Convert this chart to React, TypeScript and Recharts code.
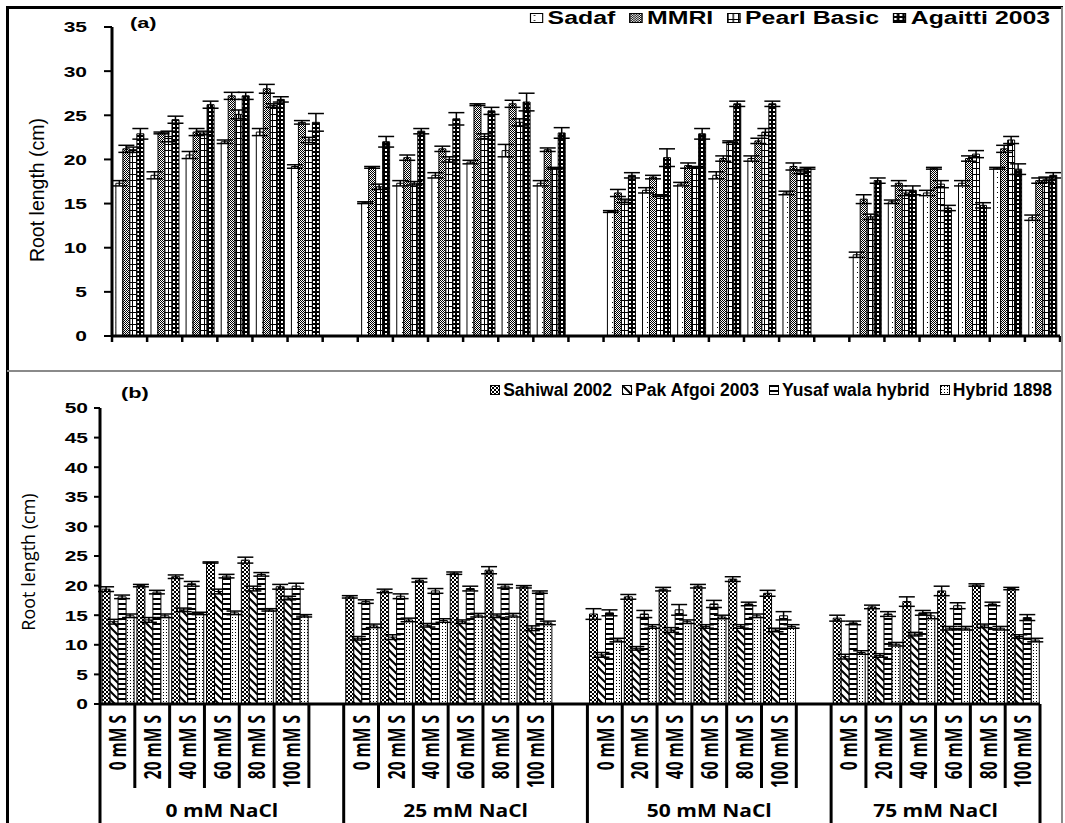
import React from 'react';
import { BarChart, Bar, XAxis, YAxis, ErrorBar } from 'recharts';

const salinityLevels = ['0 mM NaCl', '25 mM NaCl', '50 mM NaCl', '75 mM NaCl'];
const siliconLevels = ['0 mM S', '20 mM S', '40 mM S', '60 mM S', '80 mM S', '100 mM S'];

// Panel (a)
const topNames = ['Sadaf', 'MMRI', 'Pearl Basic', 'Agaitti 2003'];
const sadaf = [17.3, 18.2, 20.5, 22.0, 23.1, 19.2, 15.1, 17.3, 18.2, 19.7, 21.0, 17.3, 14.1, 16.5, 17.2, 18.2, 20.1, 16.2, 9.2, 15.2, 16.2, 17.3, 19.0, 13.4];
const sadafErr = [0.3, 0.4, 0.4, 0.2, 0.4, 0.2, 0.1, 0.3, 0.3, 0.2, 0.7, 0.3, 0.1, 0.3, 0.2, 0.4, 0.3, 0.2, 0.3, 0.2, 0.3, 0.3, 0.1, 0.3];
const mmri = [21.2, 23.0, 23.1, 27.2, 28.0, 24.2, 19.1, 20.2, 21.2, 26.2, 26.3, 21.1, 16.2, 18.0, 19.3, 20.1, 22.1, 19.2, 15.5, 17.3, 19.0, 20.1, 21.2, 17.6];
const mmriErr = [0.4, 0.1, 0.4, 0.4, 0.5, 0.2, 0.1, 0.3, 0.3, 0.1, 0.4, 0.2, 0.4, 0.2, 0.3, 0.3, 0.3, 0.4, 0.5, 0.3, 0.1, 0.3, 0.4, 0.3];
const pearl = [21.1, 22.6, 23.0, 25.1, 26.1, 22.2, 16.9, 17.3, 20.0, 22.6, 24.2, 19.0, 15.3, 15.9, 19.1, 22.0, 23.1, 18.6, 13.5, 16.2, 17.2, 20.6, 22.2, 17.7];
const pearlErr = [0.3, 0.6, 0.2, 0.5, 0.2, 0.3, 0.3, 0.2, 0.3, 0.3, 0.4, 0.1, 0.2, 0.1, 0.1, 0.1, 0.4, 0.2, 0.3, 0.3, 0.4, 0.4, 0.4, 0.3];
const agaitti = [22.9, 24.5, 26.2, 27.2, 26.8, 24.2, 22.0, 23.2, 24.6, 25.5, 26.5, 23.0, 18.2, 20.2, 22.9, 26.3, 26.3, 19.0, 17.6, 16.5, 14.5, 14.8, 18.9, 18.2];
const agaittiErr = [0.6, 0.4, 0.4, 0.4, 0.3, 1.0, 0.6, 0.3, 0.7, 0.4, 1.0, 0.6, 0.3, 1.0, 0.6, 0.3, 0.3, 0.1, 0.3, 0.5, 0.3, 0.3, 0.6, 0.3];
const topTicks = [0, 5, 10, 15, 20, 25, 30, 35];

// Panel (b)
const bottomNames = ['Sahiwal 2002', 'Pak Afgoi 2003', 'Yusaf wala hybrid', 'Hybrid 1898'];
const sahiwal = [19.4, 20.0, 21.5, 23.9, 24.3, 19.8, 18.1, 19.1, 20.9, 22.1, 22.6, 19.8, 15.2, 18.1, 19.4, 19.9, 21.1, 18.7, 14.5, 16.4, 17.3, 19.1, 20.1, 19.5];
const sahiwalErr = [0.4, 0.2, 0.3, 0.1, 0.5, 0.4, 0.2, 0.3, 0.3, 0.2, 0.6, 0.2, 0.9, 0.4, 0.3, 0.3, 0.4, 0.5, 0.5, 0.3, 0.8, 0.8, 0.2, 0.2];
const pak = [13.9, 14.2, 15.9, 19.0, 19.5, 17.9, 11.1, 11.3, 13.3, 13.9, 14.9, 12.8, 8.3, 9.4, 12.5, 13.1, 13.1, 12.5, 8.0, 8.2, 11.8, 12.8, 13.2, 11.4];
const pakErr = [0.4, 0.4, 0.3, 0.4, 0.4, 0.3, 0.3, 0.4, 0.3, 0.3, 0.3, 0.4, 0.4, 0.3, 0.4, 0.3, 0.3, 0.3, 0.4, 0.3, 0.3, 0.3, 0.3, 0.3];
const yusaf = [18.1, 18.9, 20.3, 21.6, 21.9, 19.9, 17.3, 18.2, 19.1, 19.5, 19.9, 18.9, 15.4, 15.2, 15.9, 16.9, 16.9, 14.9, 13.7, 15.2, 15.4, 16.6, 16.9, 14.6];
const yusafErr = [0.3, 0.3, 0.4, 0.3, 0.3, 0.5, 0.3, 0.4, 0.4, 0.4, 0.3, 0.2, 0.5, 0.6, 0.9, 0.6, 0.3, 0.7, 0.3, 0.4, 0.4, 0.5, 0.3, 0.5];
const hybrid = [14.9, 14.9, 15.3, 15.4, 15.9, 14.9, 13.2, 14.2, 14.1, 15.0, 15.0, 13.7, 10.8, 13.1, 13.9, 14.7, 14.9, 13.1, 8.7, 10.1, 14.9, 12.8, 12.8, 10.8];
const hybridErr = [0.3, 0.3, 0.2, 0.3, 0.2, 0.2, 0.3, 0.3, 0.3, 0.3, 0.3, 0.3, 0.3, 0.3, 0.3, 0.3, 0.3, 0.3, 0.3, 0.3, 0.5, 0.3, 0.3, 0.3];
const bottomTicks = [0, 5, 10, 15, 20, 25, 30, 35, 40, 45, 50];

type Series = { key: string; values: number[]; errors: number[] };

function buildRows(series: Series[]) {
  const rows: any[] = [];
  salinityLevels.forEach((sal, g) => {
    siliconLevels.forEach((si, s) => {
      const row: any = { key: `${g}-${s}`, label: si, group: g, groupLabel: sal, first: s === 0 };
      series.forEach((ser) => {
        row[ser.key] = ser.values[g * 6 + s];
        row[ser.key + 'Err'] = ser.errors[g * 6 + s];
      });
      rows.push(row);
    });
    if (g < salinityLevels.length - 1) rows.push({ key: `gap-${g}`, label: '', group: g, gap: true });
  });
  return rows;
}

const topRows = buildRows([
  { key: 's1', values: sadaf, errors: sadafErr },
  { key: 's2', values: mmri, errors: mmriErr },
  { key: 's3', values: pearl, errors: pearlErr },
  { key: 's4', values: agaitti, errors: agaittiErr },
]);
const bottomRows = buildRows([
  { key: 's1', values: sahiwal, errors: sahiwalErr },
  { key: 's2', values: pak, errors: pakErr },
  { key: 's3', values: yusaf, errors: yusafErr },
  { key: 's4', values: hybrid, errors: hybridErr },
]);

const W = 1065;
const T = { h: 370, left: 112, right: 5, top: 27, xh: 34 };
const B = { offset: 373, h: 450, left: 100, right: 25, top: 35, xh: 119 };
const T_SLOT = (W - T.left - T.right) / topRows.length;
const B_SLOT = (W - B.left - B.right) / bottomRows.length;

const topPatterns = ['pSadaf', 'pMMRI', 'pPearl', 'pAgaitti'];
const bottomPatterns = ['pSahiwal', 'pPak', 'pYusaf', 'pHybrid'];

const ARIAL = '"Liberation Sans", Arial, sans-serif';
const CAL = '"Open Sans", "Liberation Sans", sans-serif';

const YTick = (props: any) => {
  const { x, y, payload } = props;
  return (
    <g transform={`translate(${x},${y})`}>
      <text transform="scale(1.4,1)" textAnchor="end" dy="0.36em" fontFamily={ARIAL} fontWeight="bold" fontSize={15} fill="#000">
        {payload.value}
      </text>
    </g>
  );
};

const TopTick = (props: any) => {
  const { x, y, index } = props;
  const left = x - T_SLOT / 2;
  return (
    <g>
      <line x1={left} x2={left} y1={y} y2={y + 6} stroke="#000" strokeWidth={2.5} />
      {index === topRows.length - 1 && (
        <line x1={x + T_SLOT / 2} x2={x + T_SLOT / 2} y1={y} y2={y + 6} stroke="#000" strokeWidth={2.5} />
      )}
    </g>
  );
};

const BottomTick = (props: any) => {
  const { x, y, index } = props;
  const row = bottomRows[index];
  if (!row) return null;
  const left = x - B_SLOT / 2;
  const full = B.xh;
  const n = bottomRows.filter((r) => r.group === row.group).length;
  return (
    <g>
      <line x1={left} x2={left} y1={y} y2={y + (row.first ? full : 84)} stroke="#000" strokeWidth={3} />
      {index === bottomRows.length - 1 && (
        <line x1={x + B_SLOT / 2} x2={x + B_SLOT / 2} y1={y} y2={y + full} stroke="#000" strokeWidth={3} />
      )}
      {row.label && (
        <text
          transform={`translate(${x},${y + 11}) scale(1.45,1) rotate(-90)`}
          textAnchor="end"
          dominantBaseline="central"
          fontFamily={CAL}
          fontWeight={700}
          fontSize={15.5}
          fill="#000"
        >
          {row.label}
        </text>
      )}
      {row.first && (
        <text
          transform={`translate(${left + (n * B_SLOT) / 2},${y + 113}) scale(1.2,1)`}
          textAnchor="middle"
          fontFamily={CAL}
          fontWeight={700}
          fontSize={17.5}
          fill="#000"
        >
          {row.groupLabel}
        </text>
      )}
    </g>
  );
};

const LegendItem = ({ pattern, label }: { pattern: string; label: string }) => (
  <span style={{ display: 'inline-flex', alignItems: 'center', marginLeft: 10 }}>
    <svg width={10} height={10} style={{ marginRight: 3 }}>
      <rect x={0.5} y={0.5} width={9} height={9} fill={`url(#${pattern})`} stroke="#000" strokeWidth={1} />
    </svg>
    <span>{label}</span>
  </span>
);

const Patterns = () => (
  <svg width="0" height="0" style={{ position: 'absolute' }}>
    <defs>
      <pattern id="pSadaf" patternUnits="userSpaceOnUse" width="7" height="5">
        <rect width="7" height="5" fill="#fff" />
        <rect x="3" y="2" width="1" height="1" fill="#000" />
      </pattern>
      <pattern id="pMMRI" patternUnits="userSpaceOnUse" width="2" height="2">
        <rect width="2" height="2" fill="#fff" />
        <rect width="1" height="1" fill="#000" />
        <rect x="1" y="1" width="1" height="1" fill="#000" />
      </pattern>
      <pattern id="pPearl" patternUnits="userSpaceOnUse" width="4" height="6">
        <rect width="4" height="6" fill="#fff" />
        <rect width="4" height="1" fill="#000" />
        <rect width="1" height="6" fill="#000" />
      </pattern>
      <pattern id="pAgaitti" patternUnits="userSpaceOnUse" width="4" height="4">
        <rect width="4" height="4" fill="#000" />
        <rect x="1" y="1" width="2" height="2" fill="#fff" />
      </pattern>
      <pattern id="pSahiwal" patternUnits="userSpaceOnUse" width="4" height="4">
        <rect width="4" height="4" fill="#fff" />
        <rect width="2" height="2" fill="#000" />
        <rect x="2" y="2" width="2" height="2" fill="#000" />
      </pattern>
      <pattern id="pPak" patternUnits="userSpaceOnUse" width="8" height="8">
        <rect width="8" height="8" fill="#fff" />
        <path d="M0,0 L8,8 M-2,6 L2,10 M6,-2 L10,2" stroke="#000" strokeWidth={2} />
      </pattern>
      <pattern id="pYusaf" patternUnits="userSpaceOnUse" width="4" height="5">
        <rect width="4" height="5" fill="#fff" />
        <rect width="4" height="2" fill="#000" />
      </pattern>
      <pattern id="pHybrid" patternUnits="userSpaceOnUse" width="3" height="3">
        <rect width="3" height="3" fill="#fff" />
        <rect x="1" y="1" width="1" height="1" fill="#000" />
      </pattern>
    </defs>
  </svg>
);

const errProps = { stroke: '#000', strokeWidth: 1.5 };

export default function App() {
  return (
    <div style={{ position: 'absolute', left: 0, top: 0, width: W, height: 823, background: '#fff' }}>
      <Patterns />
      <div style={{ position: 'absolute', left: 0, top: 0 }}>
        <BarChart width={W} height={T.h} data={topRows} margin={{ top: T.top, right: T.right, bottom: 0, left: 0 }} barCategoryGap="11%" barGap={0}>
          <XAxis dataKey="key" height={T.xh} interval={0} tickLine={false} tickSize={0} tickMargin={0} axisLine={{ stroke: '#000', strokeWidth: 3 }} tick={<TopTick />} />
          <YAxis width={T.left} domain={[0, 35]} ticks={topTicks} interval={0} tickSize={8} tickMargin={17} axisLine={{ stroke: '#000', strokeWidth: 3 }} tickLine={{ stroke: '#000', strokeWidth: 2 }} tick={<YTick />} />
          {topNames.map((name, i) => (
            <Bar key={name} name={name} dataKey={`s${i + 1}`} fill={`url(#${topPatterns[i]})`} stroke="#000" strokeWidth={1} isAnimationActive={false}>
              <ErrorBar dataKey={`s${i + 1}Err`} width={8} {...errProps} />
            </Bar>
          ))}
        </BarChart>
      </div>
      <div style={{ position: 'absolute', left: 0, top: B.offset }}>
        <BarChart width={W} height={B.h} data={bottomRows} margin={{ top: B.top, right: B.right, bottom: 0, left: 0 }} barCategoryGap="6%" barGap={0}>
          <XAxis dataKey="key" height={B.xh} interval={0} tickLine={false} tickSize={0} tickMargin={0} axisLine={{ stroke: '#000', strokeWidth: 3 }} tick={<BottomTick />} />
          <YAxis width={B.left} domain={[0, 50]} ticks={bottomTicks} interval={0} tickSize={6} tickMargin={6} axisLine={{ stroke: '#000', strokeWidth: 3 }} tickLine={{ stroke: '#000', strokeWidth: 2 }} tick={<YTick />} />
          {bottomNames.map((name, i) => (
            <Bar key={name} name={name} dataKey={`s${i + 1}`} fill={`url(#${bottomPatterns[i]})`} stroke="#000" strokeWidth={1} isAnimationActive={false}>
              <ErrorBar dataKey={`s${i + 1}Err`} width={8} {...errProps} />
            </Bar>
          ))}
        </BarChart>
      </div>

      {/* legends */}
      <div style={{ position: 'absolute', right: 15, top: 8, fontFamily: ARIAL, fontWeight: 'bold', fontSize: 18, lineHeight: '20px', whiteSpace: 'nowrap', transform: 'scaleX(1.38)', transformOrigin: 'right center', display: 'flex' }}>
        {topNames.map((n, i) => (
          <LegendItem key={n} pattern={topPatterns[i]} label={n} />
        ))}
      </div>
      <div style={{ position: 'absolute', right: 13, top: 380, fontFamily: ARIAL, fontWeight: 'bold', fontSize: 17.5, lineHeight: '20px', whiteSpace: 'nowrap', display: 'flex' }}>
        {bottomNames.map((n, i) => (
          <LegendItem key={n} pattern={bottomPatterns[i]} label={n} />
        ))}
      </div>

      {/* frame and titles */}
      <svg width={W} height={823} style={{ position: 'absolute', left: 0, top: 0, pointerEvents: 'none' }}>
        <line x1={6} x2={1063} y1={7.5} y2={7.5} stroke="#000" strokeWidth={3} />
        <line x1={7.5} x2={7.5} y1={6} y2={823} stroke="#000" strokeWidth={3} />
        <line x1={1062} x2={1062} y1={7} y2={823} stroke="#8a8a8a" strokeWidth={2} />
        <line x1={7} x2={1062} y1={371} y2={371} stroke="#8a8a8a" strokeWidth={2} />
        <text transform="translate(130,28) scale(1.45,1)" fontFamily={ARIAL} fontWeight="bold" fontSize={15} fill="#000">(a)</text>
        <text transform="translate(121,398) scale(1.45,1)" fontFamily={ARIAL} fontWeight="bold" fontSize={15} fill="#000">(b)</text>
        <text transform="translate(37,190) rotate(-90)" textAnchor="middle" dominantBaseline="central" fontFamily={ARIAL} fontSize={19.5} fill="#000">Root length (cm)</text>
        <text transform="translate(28,562) rotate(-90)" textAnchor="middle" dominantBaseline="central" fontFamily={CAL} fontSize={18} fill="#000">Root length (cm)</text>
      </svg>
    </div>
  );
}
